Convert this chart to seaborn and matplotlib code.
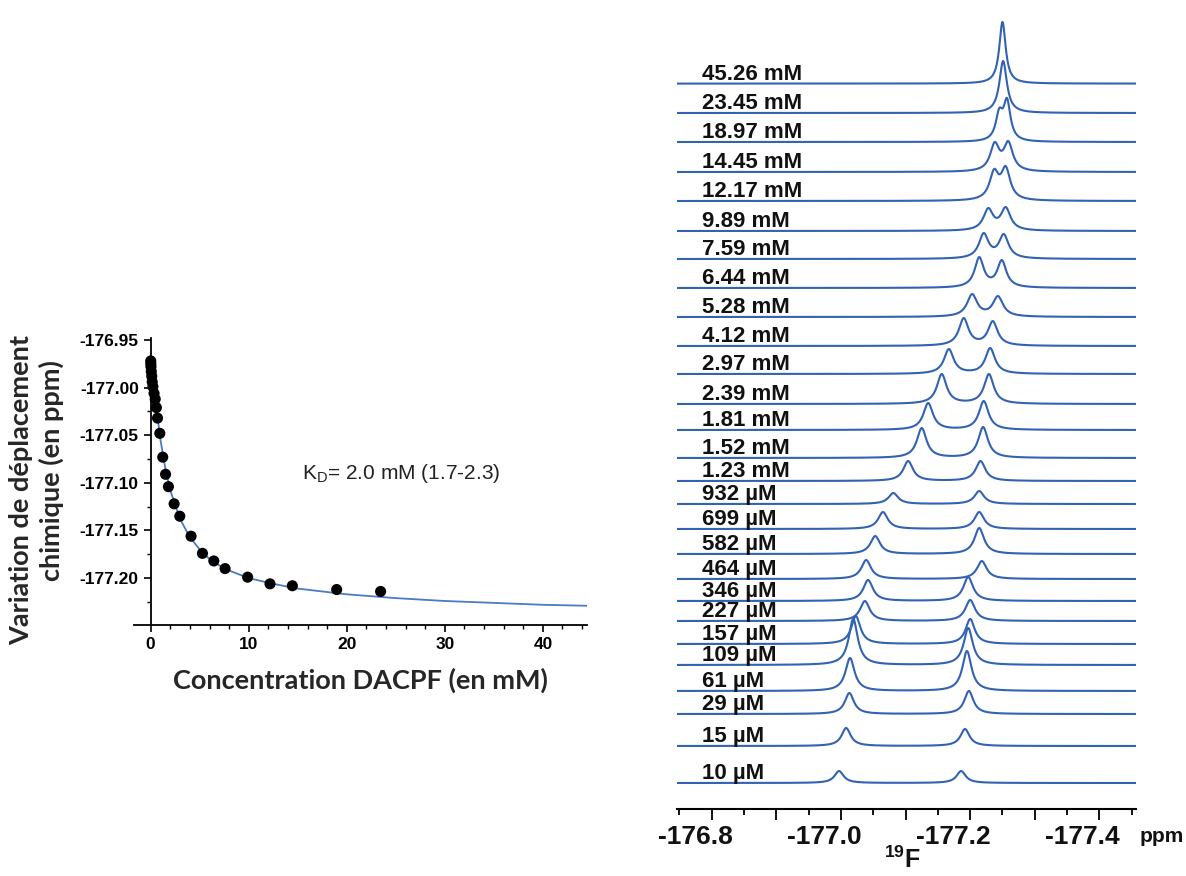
import numpy as np
import pandas as pd
import seaborn as sns
import matplotlib.pyplot as plt
from matplotlib.ticker import MultipleLocator, FixedLocator

sns.set_theme(style="white")
plt.rcParams["font.family"] = ["Liberation Sans", "DejaVu Sans"]
plt.rcParams["axes.unicode_minus"] = False
plt.rcParams["mathtext.fontset"] = "custom"
plt.rcParams["mathtext.rm"] = "Liberation Sans"
plt.rcParams["mathtext.bf"] = "Liberation Sans:bold"

# Titration (left panel)
conc_mM = [0.010, 0.015, 0.029, 0.061, 0.109, 0.157, 0.227, 0.346, 0.464, 0.582,
           0.699, 0.932, 1.23, 1.52, 1.81, 2.39, 2.97, 4.12, 5.28, 6.44, 7.59,
           9.89, 12.17, 14.45, 18.97, 23.45]
shift_ppm = [-176.972, -176.975, -176.978, -176.983, -176.988, -176.994, -176.999,
             -177.006, -177.012, -177.021, -177.032, -177.048, -177.073, -177.091,
             -177.104, -177.122, -177.135, -177.156, -177.174, -177.182, -177.190,
             -177.199, -177.206, -177.208, -177.212, -177.214]

# fitted curve
fit_conc = [0, 0.25, 0.5, 0.75, 1.0, 1.5, 2, 3, 4, 5, 6, 7.5, 10, 12.5, 15,
            20, 25, 30, 35, 40, 44.5]
fit_shift = [-176.975, -177.000, -177.018, -177.035, -177.055, -177.085, -177.108,
             -177.138, -177.157, -177.170, -177.180, -177.190, -177.200, -177.206,
             -177.211, -177.217, -177.221, -177.224, -177.226, -177.228, -177.229]

# 19F spectra (right panel), top to bottom
spec_labels = ["45.26 mM", "23.45 mM", "18.97 mM", "14.45 mM", "12.17 mM", "9.89 mM",
               "7.59 mM", "6.44 mM", "5.28 mM", "4.12 mM", "2.97 mM", "2.39 mM",
               "1.81 mM", "1.52 mM", "1.23 mM", "932 µM", "699 µM", "582 µM",
               "464 µM", "346 µM", "227 µM", "157 µM", "109 µM", "61 µM",
               "29 µM", "15 µM", "10 µM"]
peak_ppm = [[-177.276], [-177.277], [-177.271, -177.283], [-177.264, -177.285],
            [-177.263, -177.281], [-177.254, -177.281], [-177.247, -177.278],
            [-177.240, -177.275], [-177.229, -177.269], [-177.216, -177.261],
            [-177.193, -177.257], [-177.182, -177.255], [-177.161, -177.247],
            [-177.151, -177.246], [-177.130, -177.242], [-177.107, -177.240],
            [-177.091, -177.240], [-177.079, -177.240], [-177.065, -177.244],
            [-177.068, -177.223], [-177.063, -177.226], [-177.049, -177.226],
            [-177.045, -177.223], [-177.040, -177.221], [-177.039, -177.224],
            [-177.034, -177.218], [-177.023, -177.212]]
peak_height = [[61.6], [52], [34, 44], [30, 31], [32, 35], [23, 24], [26, 25],
               [31, 28], [23, 21], [28, 25], [25, 26], [30, 30], [27, 29], [30, 31],
               [20, 20], [11, 13], [17, 17], [18, 26], [19, 18], [21, 24], [20, 21],
               [28, 25], [46, 37], [33, 40], [21, 23], [18, 17], [12, 12]]
peak_fwhm = [0.012, 0.014, 0.013, 0.017, 0.017, 0.018, 0.018, 0.017, 0.019, 0.018,
             0.018, 0.018, 0.018, 0.018, 0.018, 0.018, 0.018, 0.018, 0.018, 0.018,
             0.018, 0.017, 0.017, 0.017, 0.017, 0.017, 0.017]

# layout: baseline rows of the stack (pixels from top of the figure)
stack_rows = [83.6, 113, 142, 172, 201, 231, 259, 288, 317, 346, 374, 404, 430, 458,
              481, 504, 529, 554, 579, 601, 621, 644, 665, 691, 714, 746, 783]

W, H = 1186, 876
AX_BOTTOM = 809
blue = "#3262b3"

fig = plt.figure(figsize=(W / 100, H / 100), dpi=100)

# ---------------- left panel ----------------
ax1 = fig.add_axes([134 / W, (H - 624.8) / H, (587 - 134) / W, (624.8 - 337.6) / H])
sns.lineplot(x=fit_conc, y=fit_shift, ax=ax1, color="#4a7ac8", lw=1.3)
sns.scatterplot(x=conc_mM, y=shift_ppm, ax=ax1, color="black", s=64,
                edgecolor="none", clip_on=False, zorder=3)
ax1.set_xlim(-1.7, 44.5)
ax1.set_ylim(-177.249, -176.9475)
for s in ["top", "right"]:
    ax1.spines[s].set_visible(False)
ax1.spines["left"].set_position(("data", 0))
for s in ["left", "bottom"]:
    ax1.spines[s].set_color("black")
    ax1.spines[s].set_linewidth(1.3)
ax1.set_xticks([0, 10, 20, 30, 40])
ax1.xaxis.set_minor_locator(MultipleLocator(2))
ax1.set_yticks([-177.20, -177.15, -177.10, -177.05, -177.00, -176.95])
ax1.set_yticklabels(["-177.20", "-177.15", "-177.10", "-177.05", "-177.00", "-176.95"])
ax1.yaxis.set_minor_locator(MultipleLocator(0.025))
ax1.tick_params(which="major", direction="out", length=5, width=1.2,
                labelsize=12.5, color="black", labelcolor="black", bottom=True, left=True)
ax1.tick_params(which="minor", direction="out", length=3, width=1.0, color="black",
                bottom=True, left=True)
plt.setp(ax1.get_xticklabels() + ax1.get_yticklabels(), fontweight="bold")
ax1.text(15.4, -177.09, r"K$_{\mathrm{D}}$= 2.0 mM (1.7-2.3)", fontsize=15,
         va="center", ha="left", color="#222222")

fig.text(21 / W, 1 - 490 / H, "Variation de déplacement", rotation=90, ha="center",
         va="center", fontsize=19.5, fontweight="bold", family="Lato")
fig.text(51 / W, 1 - 471 / H, "chimique (en ppm)", rotation=90, ha="center",
         va="center", fontsize=19.5, fontweight="bold", family="Lato")
fig.text(360 / W, 1 - 680 / H, "Concentration DACPF (en mM)", ha="center",
         va="center", fontsize=19.5, fontweight="bold", family="Lato")

# ---------------- right panel ----------------
x_left, x_right = -176.7717, -177.4827
ax2 = fig.add_axes([676.7 / W, (H - AX_BOTTOM) / H, (1136 - 676.7) / W, AX_BOTTOM / H])
ppm = np.linspace(x_left, x_right, 1400)


def lorentz(x, c, fwhm):
    return 1.0 / (1.0 + ((x - c) / (fwhm / 2)) ** 2)


frames = []
for lab, cs, hs, w, row in zip(spec_labels, peak_ppm, peak_height, peak_fwhm, stack_rows):
    cs = np.array(cs)
    M = lorentz(cs[:, None], cs[None, :], w)
    amps = np.linalg.solve(M, np.array(hs, dtype=float))
    y = sum(a * lorentz(ppm, c, w) for a, c in zip(amps, cs))
    frames.append(pd.DataFrame({"ppm": ppm, "intensity": y + (AX_BOTTOM - row),
                                "spectrum": lab}))
    ax2.text(-176.8104, AX_BOTTOM - row + 4, lab, fontsize=16, fontweight="bold",
             ha="left", va="baseline", color="#111111")
spectra = pd.concat(frames)
sns.lineplot(data=spectra, x="ppm", y="intensity", units="spectrum", estimator=None,
             color=blue, lw=1.5, ax=ax2, sort=False)

ax2.set_xlim(x_left, x_right)
ax2.set_ylim(0, AX_BOTTOM)
ax2.set_xlabel("")
ax2.set_ylabel("")
for s in ["top", "right", "left"]:
    ax2.spines[s].set_visible(False)
ax2.spines["bottom"].set_color("black")
ax2.spines["bottom"].set_linewidth(1.5)
ax2.set_yticks([])
ax2.xaxis.set_major_locator(FixedLocator(np.arange(-176.826, -177.49, -0.1)))
ax2.xaxis.set_minor_locator(FixedLocator(np.arange(-176.776, -177.49, -0.1)))
ax2.tick_params(axis="x", which="major", direction="out", length=8, width=1.3,
                color="black", labelbottom=False, bottom=True)
ax2.tick_params(axis="x", which="minor", direction="out", length=4, width=1.3,
                color="black", bottom=True)
for v in [-176.8, -177.0, -177.2, -177.4]:
    ax2.text(v, -(837 - AX_BOTTOM) / AX_BOTTOM, f"{v:.1f}",
             transform=ax2.get_xaxis_transform(), ha="center", va="center",
             fontsize=19, fontweight="bold", color="#111111")
fig.text(1140 / W, 1 - 837 / H, "ppm", ha="left", va="center", fontsize=15,
         fontweight="bold", color="#111111")
fig.text(902 / W, 1 - 860 / H, r"$\mathbf{{}^{19}F}$", ha="center", va="center",
         fontsize=18, color="#111111")

fig.savefig("out.png", dpi=100)
